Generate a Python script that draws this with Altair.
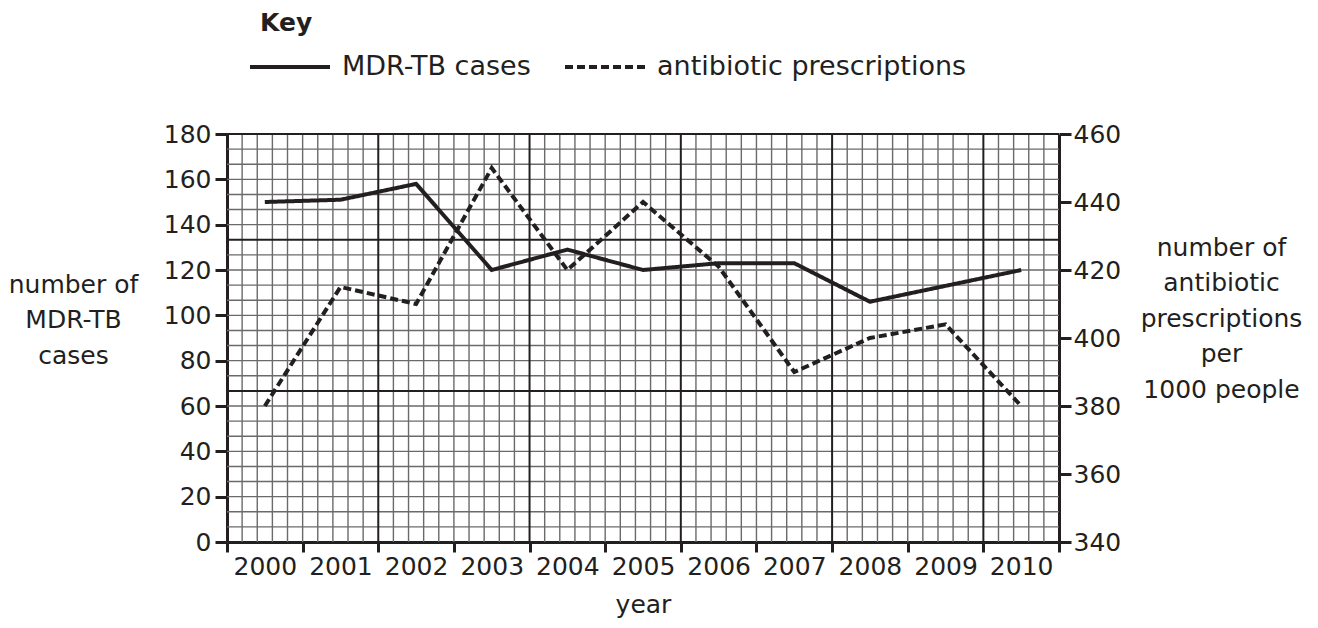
import altair as alt
import pandas as pd

# ---------------- data ----------------
years = [2000, 2001, 2002, 2003, 2004, 2005, 2006, 2007, 2008, 2009, 2010]
mdr_tb_cases = [150, 151, 158, 120, 129, 120, 123, 123, 106, 113, 120]
antibiotic_prescriptions = [380, 415, 410, 450, 420, 440, 421, 390, 400, 404, 380]
left_ticks = [0, 20, 40, 60, 80, 100, 120, 140, 160, 180]
right_ticks = [340, 360, 380, 400, 420, 440, 460]
series_names = ["MDR-TB cases", "antibiotic prescriptions"]

# ---------------- layout constants ----------------
W, H = 832, 408
INK = "#231f20"
GRID = "#6a6a6a"
FONT = "DejaVu Sans"
FS = 25

n_years = len(years)
first = years[0]
df_mdr = pd.DataFrame({"x": [y - first + 0.5 for y in years], "year": years,
                       "value": mdr_tb_cases, "series": series_names[0]})
df_abx = pd.DataFrame({"x": [y - first + 0.5 for y in years], "year": years,
                       "value": antibiotic_prescriptions, "series": series_names[1]})

# graph-paper grid (5 small squares per year, 27 rows, heavy line every 10 squares)
lmin, lmax = left_ticks[0], left_ticks[-1]
rows = 27
cols = n_years * 5
minor_x = pd.DataFrame({"gx": [k / 5 for k in range(1, cols) if k % 10 != 0]})
major_x = pd.DataFrame({"gx": [k / 5 for k in range(1, cols) if k % 10 == 0]})
minor_y = pd.DataFrame({"gy": [lmin + k * (lmax - lmin) / rows for k in range(1, rows) if k % 10 != 0]})
major_y = pd.DataFrame({"gy": [lmin + k * (lmax - lmin) / rows for k in (10, 20, rows)]})

xscale = alt.Scale(domain=[0, n_years], nice=False, zero=False)
lscale = alt.Scale(domain=[lmin, lmax], nice=False, zero=False)
rscale = alt.Scale(domain=[right_ticks[0], right_ticks[-1]], nice=False, zero=False)
dash_scale = alt.Scale(domain=series_names, range=[[1, 0], [8, 4]])

x_axis = alt.Axis(
    values=list(range(0, n_years + 1)),
    labelExpr=f"datum.value < {n_years} ? '' + ({first} + datum.value) : ''",
    labelOffset=W / n_years / 2,
    labelAlign="center",
    labelFlush=False,
    labelOverlap=False,
    labelPadding=2,
    tickSize=10,
    title="year",
    titleY=50,
    titleBaseline="top",
)

left_axis = alt.Axis(
    values=left_ticks,
    orient="left",
    tickSize=12,
    labelPadding=4,
    labelFlush=False,
    labelOverlap=False,
    title=["number of", "MDR-TB", "cases"],
    titleAngle=0,
    titleAlign="center",
    titleBaseline="top",
    titleX=-154,
    titleY=138,
    titleLineHeight=35.5,
)

right_axis = alt.Axis(
    values=right_ticks,
    orient="right",
    tickSize=12,
    labelPadding=2,
    labelFlush=False,
    labelOverlap=False,
    title=["number of", "antibiotic", "prescriptions", "per", "1000 people"],
    titleAngle=0,
    titleAlign="center",
    titleBaseline="top",
    titleX=162,
    titleY=101,
    titleLineHeight=35.5,
)

g_minor_v = alt.Chart(minor_x).mark_rule(color=GRID, strokeWidth=1.4).encode(
    x=alt.X("gx:Q", scale=xscale, axis=x_axis))
g_major_v = alt.Chart(major_x).mark_rule(color=INK, strokeWidth=2).encode(
    x=alt.X("gx:Q", scale=xscale))
g_minor_h = alt.Chart(minor_y).mark_rule(color=GRID, strokeWidth=1.4).encode(
    y=alt.Y("gy:Q", scale=lscale, axis=left_axis))
g_major_h = alt.Chart(major_y).mark_rule(color=INK, strokeWidth=2).encode(
    y=alt.Y("gy:Q", scale=lscale))

legend = alt.Legend(
    title=None,
    orient="none",
    legendX=21,
    legendY=-109,
    direction="horizontal",
    symbolType="stroke",
    symbolSize=6400,
    symbolStrokeWidth=4,
    symbolStrokeColor=INK,
    labelFontSize=27,
    labelFont=FONT,
    labelColor=INK,
    labelOffset=10,
    labelLimit=0,
    columnPadding=26,
    padding=0,
)

line_mdr = alt.Chart(df_mdr).mark_line(color=INK, strokeWidth=4, strokeJoin="miter").encode(
    x=alt.X("x:Q", scale=xscale),
    y=alt.Y("value:Q", scale=lscale),
    strokeDash=alt.StrokeDash("series:N", scale=dash_scale, legend=legend),
)

line_abx = alt.Chart(df_abx).mark_line(color=INK, strokeWidth=4, strokeJoin="miter").encode(
    x=alt.X("x:Q", scale=xscale),
    y=alt.Y("value:Q", scale=rscale, axis=right_axis),
    strokeDash=alt.StrokeDash("series:N", scale=dash_scale, legend=legend),
)

left_layer = alt.layer(g_minor_v, g_minor_h, g_major_v, g_major_h, line_mdr)

chart = alt.layer(left_layer, line_abx).resolve_scale(y="independent").properties(
    width=W,
    height=H,
    autosize=alt.AutoSizeParams(type="none"),
    padding={"left": 219, "top": 126, "right": 243, "bottom": 78},
    title=alt.TitleParams(
        "Key", anchor="start", frame="group", dx=33, dy=11, fontSize=FS, fontWeight="bold",
        font=FONT, color=INK, baseline="top", offset=0,
    ),
).configure_view(strokeWidth=0).configure_axis(
    domainColor=INK,
    domainWidth=3,
    tickColor=INK,
    tickWidth=3,
    labelFont=FONT,
    labelFontSize=FS,
    labelColor=INK,
    titleFont=FONT,
    titleFontSize=FS,
    titleFontWeight="normal",
    titleColor=INK,
    grid=False,
).configure_legend(symbolStrokeColor=INK)

chart.save("out.html", embed_options={"renderer": "svg", "actions": False})
